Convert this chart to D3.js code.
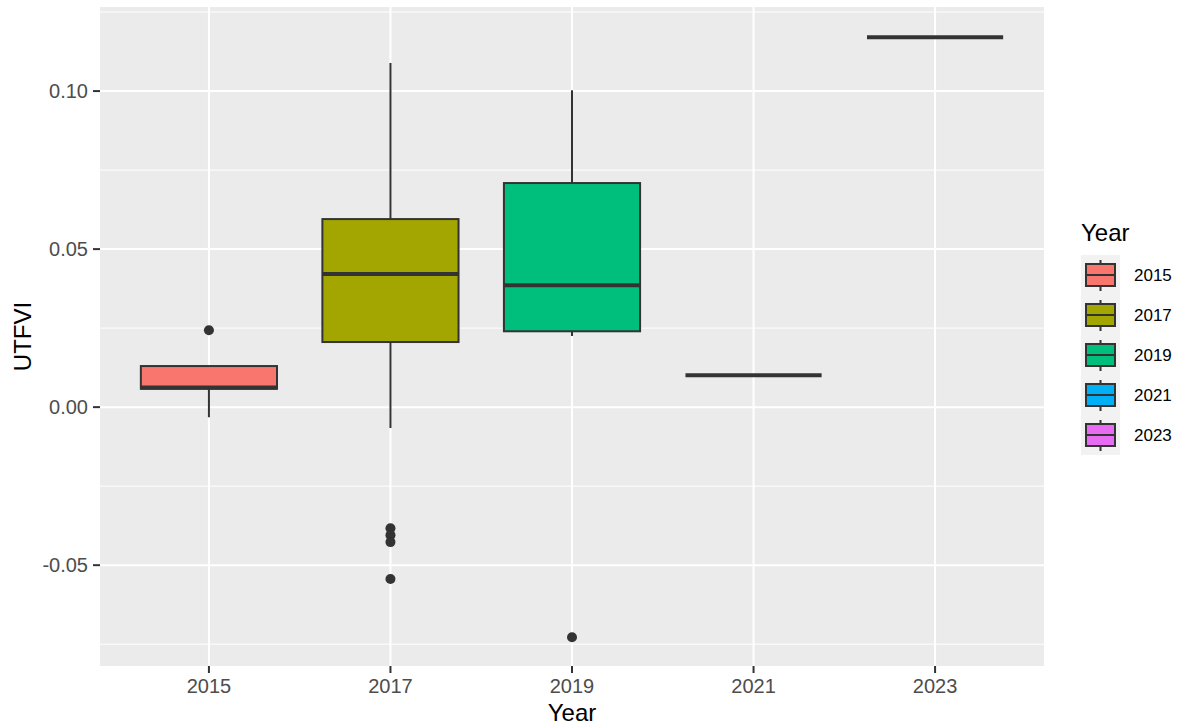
<!DOCTYPE html>
<html>
<head>
<meta charset="utf-8">
<script src="https://cdn.jsdelivr.net/npm/d3@7"></script>
<style>
body{margin:0;background:#fff;}
text{font-family:"Liberation Sans",Arial,Helvetica,sans-serif;}
</style>
</head>
<body>
<svg id="chart" width="1187" height="728"></svg>
<script>
const years = ["2015","2017","2019","2021","2023"];
const colors = ["#F8766D","#A3A500","#00BF7D","#00B0F6","#E76BF3"];
const lowerWhisker = [-0.0032, -0.0066, 0.0225, 0.0101, 0.1170];
const q1 = [0.0058, 0.0206, 0.0240, 0.0101, 0.1170];
const medians = [0.0062, 0.0421, 0.0386, 0.0101, 0.1170];
const q3 = [0.0130, 0.0595, 0.0709, 0.0101, 0.1170];
const upperWhisker = [0.0130, 0.1089, 0.1003, 0.0101, 0.1170];
const outliers = [[0.0243], [-0.0383, -0.0405, -0.0427, -0.0544], [-0.0728], [], []];
const yTicks = [-0.05, 0.00, 0.05, 0.10];
const yTickLabels = ["-0.05", "0.00", "0.05", "0.10"];
const yMinor = [-0.075, -0.025, 0.025, 0.075, 0.125];

const svg = d3.select("#chart");
const P = {l:100, r:1044, t:7, b:666};

// discrete scale: each category 1 unit, expansion 0.6 on each side
const x = d3.scalePoint().domain(years).range([P.l, P.r]).padding(0.6);
const unit = x.step();
const xc = d => x(d);
const y = d3.scaleLinear().domain([-0.0819, 0.1266]).range([P.b, P.t]);

svg.append("rect").attr("x",P.l).attr("y",P.t).attr("width",P.r-P.l).attr("height",P.b-P.t).attr("fill","#EBEBEB");

const g = svg.append("g");
yMinor.forEach(v=>{
  g.append("line").attr("x1",P.l).attr("x2",P.r).attr("y1",y(v)).attr("y2",y(v)).attr("stroke","#fff").attr("stroke-width",1);
});
yTicks.forEach(v=>{
  g.append("line").attr("x1",P.l).attr("x2",P.r).attr("y1",y(v)).attr("y2",y(v)).attr("stroke","#fff").attr("stroke-width",2);
});
years.forEach(d=>{
  g.append("line").attr("x1",xc(d)).attr("x2",xc(d)).attr("y1",P.t).attr("y2",P.b).attr("stroke","#fff").attr("stroke-width",2);
});

const bw = unit * 0.75;
const outline = "#333333";
years.forEach((d,i)=>{
  const cx = xc(d);
  const bg = svg.append("g");
  bg.append("line").attr("x1",cx).attr("x2",cx).attr("y1",y(upperWhisker[i])).attr("y2",y(q3[i])).attr("stroke",outline).attr("stroke-width",2);
  bg.append("line").attr("x1",cx).attr("x2",cx).attr("y1",y(q1[i])).attr("y2",y(lowerWhisker[i])).attr("stroke",outline).attr("stroke-width",2);
  bg.append("rect").attr("x",cx-bw/2).attr("width",bw).attr("y",y(q3[i])).attr("height",Math.max(0,y(q1[i])-y(q3[i])))
    .attr("fill",colors[i]).attr("stroke",outline).attr("stroke-width",2);
  bg.append("line").attr("x1",cx-bw/2).attr("x2",cx+bw/2).attr("y1",y(medians[i])).attr("y2",y(medians[i])).attr("stroke",outline).attr("stroke-width",4);
  outliers[i].forEach(v=>{
    bg.append("circle").attr("cx",cx).attr("cy",y(v)).attr("r",5).attr("fill",outline);
  });
});

// axes
const tickCol = "#4D4D4D";
yTicks.forEach((v,i)=>{
  svg.append("line").attr("x1",P.l-7).attr("x2",P.l).attr("y1",y(v)).attr("y2",y(v)).attr("stroke",outline).attr("stroke-width",2);
  svg.append("text").attr("x",P.l-12).attr("y",y(v)).attr("dy","0.35em").attr("text-anchor","end")
    .attr("font-size",20).attr("fill",tickCol).text(yTickLabels[i]);
});
years.forEach(d=>{
  svg.append("line").attr("x1",xc(d)).attr("x2",xc(d)).attr("y1",P.b).attr("y2",P.b+7).attr("stroke",outline).attr("stroke-width",2);
  svg.append("text").attr("x",xc(d)).attr("y",693).attr("text-anchor","middle")
    .attr("font-size",20).attr("fill",tickCol).text(d);
});
svg.append("text").attr("x",(P.l+P.r)/2).attr("y",721).attr("text-anchor","middle").attr("font-size",24).attr("fill","#000").text("Year");
svg.append("text").attr("transform",`translate(31,${(P.t+P.b)/2}) rotate(-90)`).attr("text-anchor","middle").attr("font-size",24).attr("fill","#000").text("UTFVI");

// legend
const L = {x:1081, y:255, kw:39, kh:40};
svg.append("text").attr("x",L.x).attr("y",241).attr("font-size",24).attr("fill","#000").text("Year");
years.forEach((d,i)=>{
  const ky = L.y + i*L.kh;
  const lg = svg.append("g");
  lg.append("rect").attr("x",L.x).attr("y",ky).attr("width",L.kw).attr("height",L.kh).attr("fill","#F2F2F2");
  const cx = L.x + L.kw/2;
  lg.append("line").attr("x1",cx).attr("x2",cx).attr("y1",ky+5).attr("y2",ky+L.kh-4).attr("stroke",outline).attr("stroke-width",2);
  lg.append("rect").attr("x",L.x+5).attr("y",ky+9).attr("width",L.kw-10).attr("height",22).attr("fill",colors[i]).attr("stroke",outline).attr("stroke-width",2);
  lg.append("line").attr("x1",L.x+5).attr("x2",L.x+L.kw-5).attr("y1",ky+20).attr("y2",ky+20).attr("stroke",outline).attr("stroke-width",2);
  lg.append("text").attr("x",1134).attr("y",ky+L.kh/2).attr("dy","0.35em").attr("font-size",17).attr("fill","#000").text(d);
});
</script>
</body>
</html>
